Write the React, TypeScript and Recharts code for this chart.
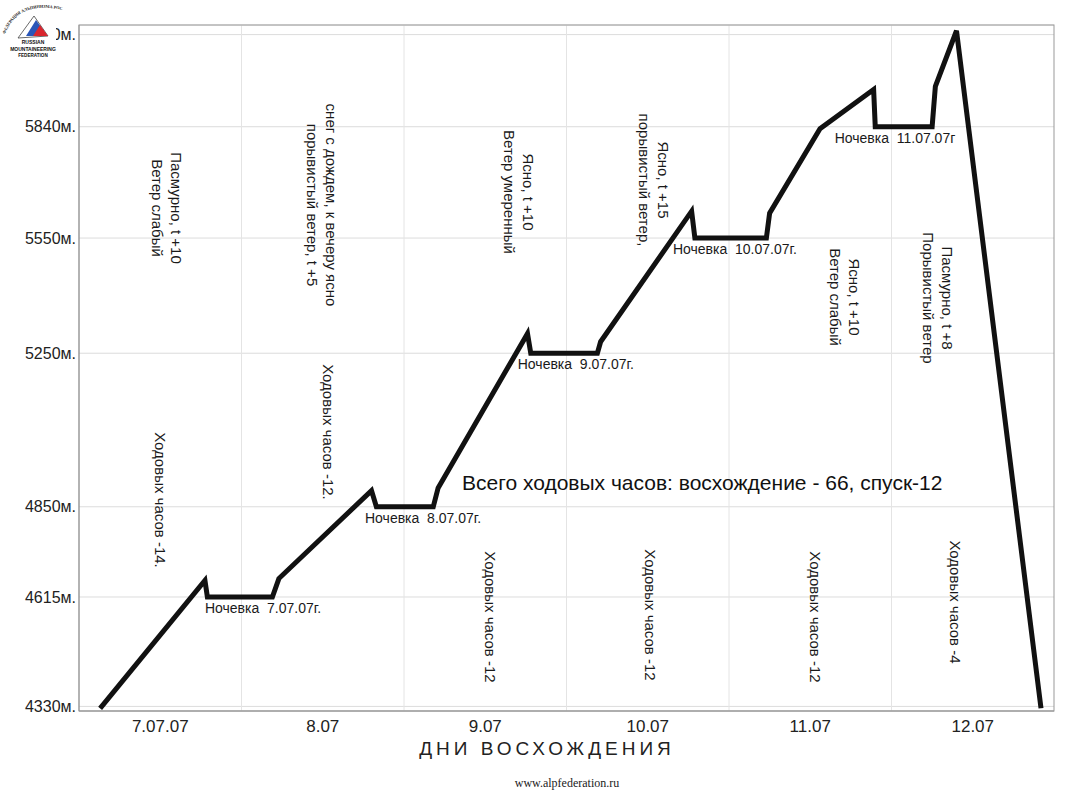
import React from "react";
import {
  LineChart,
  Line,
  XAxis,
  YAxis,
  CartesianGrid,
  ReferenceLine,
  ReferenceDot,
} from "recharts";

// дни восхождения (колонки по оси X)
const days = ["7.07.07", "8.07", "9.07", "10.07", "11.07", "12.07"];
const dayTicks = [0.5, 1.5, 2.5, 3.5, 4.5, 5.5];
const dayBorders = [1, 2, 3, 4, 5];

// отметки высоты (ось Y)
const altitudeTicks = [4330, 4615, 4850, 5250, 5550, 5840, 6080];

// профиль маршрута: позиция в днях и высота, м
const routeDay = [
  0.13, 0.775, 0.79, 1.19, 1.23, 1.8, 1.83, 2.18, 2.21, 2.76, 2.78, 3.19,
  3.21, 3.77, 3.79, 4.23, 4.25, 4.56, 4.89, 4.9, 5.25, 5.27, 5.4, 5.92,
];
const routeAlt = [
  4325, 4658, 4615, 4615, 4663, 4892, 4850, 4850, 4899, 5301, 5250, 5250,
  5280, 5620, 5550, 5550, 5615, 5835, 5937, 5840, 5840, 5945, 6090, 4325,
];

// ночевки
const nightDay = [0.775, 1.76, 2.7, 3.655, 4.65];
const nightAlt = [4615, 4850, 5250, 5550, 5840];
const nightText = [
  "Ночевка\u00a0 7.07.07г.",
  "Ночевка\u00a0 8.07.07г.",
  "Ночевка\u00a0 9.07.07г.",
  "Ночевка\u00a0 10.07.07г.",
  "Ночевка\u00a0 11.07.07г",
];

const FONT = "'Liberation Sans', Arial, sans-serif";

const data = routeDay.map((d, i) => ({ day: d, alt: routeAlt[i] }));

function VText({ cx, cy, lines, size = 15, gap = 19 }) {
  const n = lines.length;
  return (
    <g>
      {lines.map((t, i) => {
        const x = cx + ((n - 1) / 2 - i) * gap;
        return (
          <text
            key={i}
            x={x}
            y={cy}
            transform={`rotate(90 ${x} ${cy})`}
            textAnchor="middle"
            dominantBaseline="central"
            fontSize={size}
            fontFamily={FONT}
            fill="#1a1a1a"
          >
            {t}
          </text>
        );
      })}
    </g>
  );
}

// логотип ФАР поверх верхней отметки, как на скане
function Logo() {
  return (
    <g>
      <rect x={6} y={3} width={50} height={56} fill="#fff" />
      <defs>
        <path id="logoArc" d="M5 34 Q 18 0 62 10" />
      </defs>
      <text fontSize={4.2} fontFamily="'Liberation Serif', serif" fontWeight="bold" fill="#222">
        <textPath href="#logoArc">ФЕДЕРАЦИЯ АЛЬПИНИЗМА РОССИИ</textPath>
      </text>
      <polygon points="18,38 34,16 48,36" fill="#fff" stroke="#444" strokeWidth={0.8} />
      <polygon points="26,36 36,20 44,31 40,36" fill="#2a56b8" />
      <polygon points="33,36 40,25 48,36" fill="#d8262e" />
      <text x={33} y={44} fontSize={5} fontWeight="bold" fontFamily={FONT} textAnchor="middle" fill="#111">
        RUSSIAN
      </text>
      <text x={33} y={50.5} fontSize={5} fontWeight="bold" fontFamily={FONT} textAnchor="middle" fill="#111">
        MOUNTAINEERING
      </text>
      <text x={33} y={57} fontSize={4.6} fontWeight="bold" fontFamily={FONT} textAnchor="middle" fill="#111">
        FEDERATION
      </text>
    </g>
  );
}

export default function App() {
  return (
    <div
      style={{
        position: "absolute",
        left: 0,
        top: 0,
        width: 1085,
        height: 794,
        background: "#fff",
      }}
    >
      <LineChart
        width={1085}
        height={794}
        data={data}
        margin={{ top: 25, right: 31, left: 0, bottom: 53 }}
      >
        <CartesianGrid vertical={false} stroke="#dcdcdc" />
        {dayBorders.map((d) => (
          <ReferenceLine key={d} x={d} stroke="#e4e4e4" />
        ))}
        <XAxis
          dataKey="day"
          type="number"
          domain={[0, 6]}
          ticks={dayTicks}
          tickFormatter={(v) => days[Math.floor(v)]}
          axisLine={{ stroke: "#999" }}
          tickLine={false}
          tickSize={0}
          tickMargin={9}
          height={30}
          allowDataOverflow
          tick={{
            fontSize: 17,
            fill: "#222",
            fontFamily: "'Liberation Sans Narrow', 'Liberation Sans', Arial",
          }}
        />
        <YAxis
          type="number"
          domain={[4318, 6105]}
          ticks={altitudeTicks}
          tickFormatter={(v) => `${v}м.`}
          axisLine={{ stroke: "#999" }}
          tickLine={false}
          tickSize={0}
          tickMargin={3}
          width={79}
          allowDataOverflow
          tick={{ fontSize: 16, fill: "#222", fontFamily: FONT }}
        />
        <Line
          type="linear"
          dataKey="alt"
          stroke="#111"
          strokeWidth={5}
          strokeLinejoin="miter"
          dot={false}
          isAnimationActive={false}
        />
        {nightDay.map((d, i) => (
          <ReferenceDot
            key={i}
            x={d}
            y={nightAlt[i]}
            r={1}
            ifOverflow="visible"
            shape={(p) => (
              <text
                x={p.cx}
                y={p.cy + 16}
                fontSize={14}
                fontFamily={FONT}
                fill="#1a1a1a"
              >
                {nightText[i]}
              </text>
            )}
          />
        ))}
      </LineChart>

      <svg
        width={1085}
        height={794}
        style={{ position: "absolute", left: 0, top: 0, pointerEvents: "none" }}
      >
        <rect x={79} y={25} width={975} height={686} fill="none" stroke="#999" strokeWidth={1} />
        <Logo />

        <VText cx={167} cy={208} lines={["Пасмурно, t +10", "Ветер слабый"]} />
        <VText cx={160} cy={500} lines={["Ходовых часов -14."]} />
        <VText cx={322} cy={205} lines={["снег с дождем, к вечеру ясно", "порывистый ветер, t +5"]} />
        <VText cx={328} cy={432} lines={["Ходовых часов -12."]} />
        <VText cx={519} cy={192} lines={["Ясно, t +10", "Ветер умеренный"]} />
        <VText cx={490} cy={617} lines={["Ходовых часов -12"]} />
        <VText cx={654} cy={180} lines={["Ясно, t +15", "порывистый ветер,"]} />
        <VText cx={650} cy={615} lines={["Ходовых часов -12"]} />
        <VText cx={845} cy={297} lines={["Ясно, t +10", "Ветер слабый"]} />
        <VText cx={815} cy={617} lines={["Ходовых часов -12"]} />
        <VText cx={938} cy={298} lines={["Пасмурно, t +8", "Порывистый ветер"]} />
        <VText cx={955} cy={602} lines={["Ходовых часов -4"]} />

        <text x={462} y={490} fontSize={21} fontFamily={FONT} fill="#111">
          Всего ходовых часов: восхождение - 66, спуск-12
        </text>

        <text
          x={547}
          y={755}
          fontSize={19}
          letterSpacing={4}
          textAnchor="middle"
          fontFamily={FONT}
          fill="#222"
        >
          ДНИ ВОСХОЖДЕНИЯ
        </text>
        <text
          x={567}
          y={787}
          fontSize={12}
          textAnchor="middle"
          fontFamily="'Liberation Serif', serif"
          fill="#222"
        >
          www.alpfederation.ru
        </text>
      </svg>
    </div>
  );
}
